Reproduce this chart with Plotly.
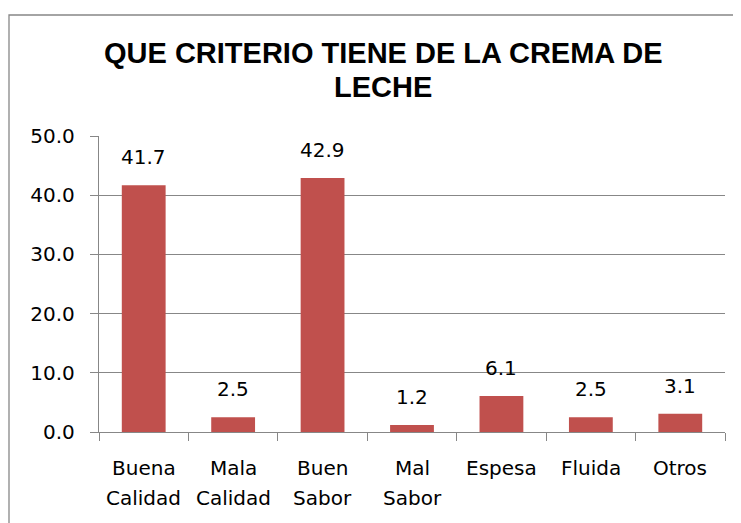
import plotly.graph_objects as go

categories = ["Buena Calidad", "Mala Calidad", "Buen Sabor", "Mal Sabor", "Espesa", "Fluida", "Otros"]
label_lines = [["Buena", "Calidad"], ["Mala", "Calidad"], ["Buen", "Sabor"], ["Mal", "Sabor"],
               ["Espesa"], ["Fluida"], ["Otros"]]
values = [41.7, 2.5, 42.9, 1.2, 6.1, 2.5, 3.1]
title_lines = ["QUE CRITERIO TIENE DE LA CREMA DE", "LECHE"]
y_ticks = [0, 10, 20, 30, 40, 50]

# page is offset by the default 8px body margin
OFF = 8
W, H = 741, 523
L, R, T, B = 99 - OFF, 16 + OFF, 136 - OFF, 91 + OFF
pw, ph = W - L - R, H - T - B

def px_x(p):
    return (p - OFF - L) / pw

def px_y(p):
    return (H - B - (p - OFF)) / ph

GRAY = "#878787"
FONT = "DejaVu Sans"

fig = go.Figure()
fig.add_trace(go.Bar(x=categories, y=values, marker=dict(color="#C0504D", line=dict(width=0)),
                     hoverinfo="skip"))

annotations = []
for c, v in zip(categories, values):
    annotations.append(dict(x=c, y=v, xref="x", yref="y", text=f"{v:.1f}", showarrow=False,
                            yanchor="middle", yshift=28,
                            font=dict(family=FONT, size=20, color="#000000")))
for c, lines in zip(categories, label_lines):
    for i, line in enumerate(lines):
        annotations.append(dict(x=c, y=0, xref="x", yref="y", text=line, showarrow=False,
                                yanchor="middle", yshift=-36 - 30 * i,
                                font=dict(family=FONT, size=20, color="#000000")))
annotations.append(dict(x=px_x(383), y=px_y(53), xref="paper", yref="paper", text="<b>%s</b>" % title_lines[0],
                        showarrow=False, xanchor="center", yanchor="middle",
                        font=dict(family="Liberation Sans", size=29, color="#000000")))
annotations.append(dict(x=px_x(383), y=px_y(87), xref="paper", yref="paper", text="<b>%s</b>" % title_lines[1],
                        showarrow=False, xanchor="center", yanchor="middle",
                        font=dict(family="Liberation Sans", size=29, color="#000000")))

fig.update_layout(
    width=W, height=H,
    margin=dict(l=L, r=R, t=T, b=B, pad=0),
    paper_bgcolor="white", plot_bgcolor="white",
    showlegend=False,
    bargap=0.51,
    annotations=annotations,
    shapes=[dict(type="rect", xref="paper", yref="paper",
                 x0=px_x(9), x1=px_x(760), y0=px_y(540), y1=px_y(15),
                 line=dict(color=GRAY, width=1.3), layer="below")],
)
fig.update_xaxes(
    showline=True, linecolor=GRAY, linewidth=1.3,
    ticks="outside", tickson="boundaries", ticklen=8, tickcolor=GRAY, tickwidth=1.3,
    showgrid=False, showticklabels=False,
)
fig.update_yaxes(
    range=[0, 50], tickvals=y_ticks, tickformat=".1f",
    showline=True, linecolor=GRAY, linewidth=1.3,
    ticks="outside", ticklen=8, tickcolor=GRAY, tickwidth=1.3,
    showgrid=True, gridcolor=GRAY, gridwidth=1.3,
    zeroline=False,
    tickfont=dict(family=FONT, size=20, color="#000000"),
    ticklabelstandoff=11,
)

fig.write_html("out.html")
